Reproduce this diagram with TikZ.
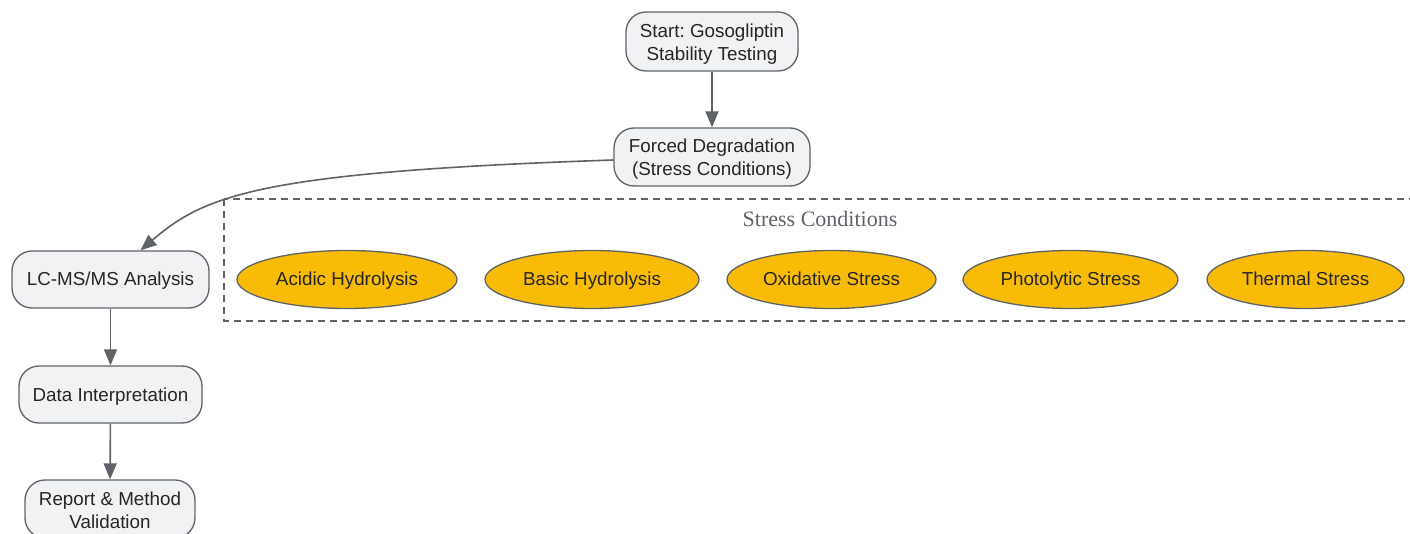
\documentclass[tikz,border=0pt]{standalone}
\usepackage{fontspec}
\setmainfont{Liberation Sans}
\newfontfamily\serifgray{Liberation Serif}
\usetikzlibrary{arrows.meta,shapes.geometric}
\definecolor{linegray}{HTML}{5F6368}
\definecolor{boxfill}{HTML}{F1F2F4}
\definecolor{stressyellow}{HTML}{F9BC06}
\frenchspacing
\begin{document}
\begin{tikzpicture}[x=1pt,y=-1pt,
        stepbox/.style={draw=linegray,line width=1.3pt,fill=boxfill,rounded corners=20pt,align=center,
            font=\fontsize{18.8}{23}\selectfont,text=black!85,inner sep=0pt},
        oneline/.style={text height=15pt,text depth=2pt},
        twoline/.style={text height=41pt,text depth=3pt},
        stressnode/.style={ellipse,draw=linegray,line width=1.3pt,fill=stressyellow,oneline,
            font=\fontsize{18.8}{23}\selectfont,text=black!85,inner sep=0pt,minimum height=58pt},
        arrow/.style={draw=linegray,line width=1.6pt,-{Triangle[length=16pt,width=13pt]}}]
            \useasboundingbox (0,0) rectangle (1410,534);
            % main flow
            \node [stepbox,twoline,minimum width=172pt,minimum height=59pt] (start) at(712,41.5) {Start: Gosogliptin\\Stability Testing};
            \node [stepbox,twoline,minimum width=196pt,minimum height=58pt] (fd) at(712,157) {Forced Degradation\\(Stress Conditions)};
            \node [stepbox,oneline,minimum width=197pt,minimum height=57pt] (lc) at(110.5,279.5) {LC-MS/MS Analysis};
            \node [stepbox,oneline,minimum width=183pt,minimum height=57pt] (di) at(110.5,394.5) {Data Interpretation};
            \node [stepbox,twoline,minimum width=170pt,minimum height=58pt] (rep) at(110,509) {Report \& Method\\Validation};
            % stress conditions group
            \draw [draw=linegray,line width=1.3pt,dash pattern=on 7pt off 5pt] (224,199) rectangle (1430,321);
            \node [text=linegray,oneline,font=\serifgray\fontsize{22}{24}\selectfont] (grp) at(820,220) {Stress Conditions};
            \node [stressnode,minimum width=220pt] (acid) at(347,279.5) {Acidic Hydrolysis};
            \node [stressnode,minimum width=214pt] (base) at(592,279.5) {Basic Hydrolysis};
            \node [stressnode,minimum width=209pt] (oxi) at(831.5,279.5) {Oxidative Stress};
            \node [stressnode,minimum width=215pt] (photo) at(1070.5,279.5) {Photolytic Stress};
            \node [stressnode,minimum width=197pt] (therm) at(1305.5,279.5) {Thermal Stress};
            % connectors
            \draw [arrow] (start) -- (fd);
            \draw [arrow] ([yshift=-3pt]fd.west) .. controls (260,172) and (205,195) .. ([xshift=30pt]lc.north);
            \draw [arrow] (lc) -- (di);
            \draw [arrow] (di) -- (rep);
        \end{tikzpicture}
\end{document}
